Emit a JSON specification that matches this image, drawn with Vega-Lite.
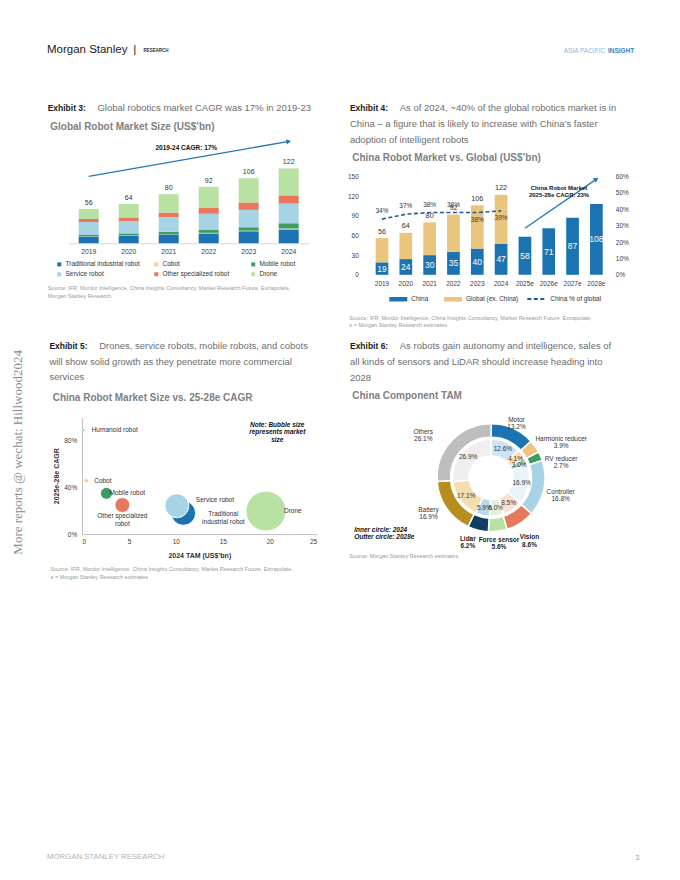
{
  "$schema": "https://vega.github.io/schema/vega-lite/v6.json",
  "background": "white",
  "padding": {"left": 11.7, "top": 43, "right": 4, "bottom": 4},
  "config": {
    "font": "Liberation Sans",
    "view": {"stroke": null},
    "axis": {"labelFont": "Liberation Sans", "titleFont": "Liberation Sans", "labelColor": "#404040", "titleColor": "#333333", "grid": false, "ticks": false, "labelOverlap": false},
    "axisY": {"labelOverlap": false},
    "axisQuantitative": {"labelOverlap": false},
    "legend": {"labelFont": "Liberation Sans", "padding": 0},
    "title": {"font": "Liberation Sans", "subtitleFont": "Liberation Sans"},
    "text": {"font": "Liberation Sans"}
  },
  "datasets": {
    "ex3": [
      {"year": "2019", "segment": "Traditional industrial robot", "rank": 1, "value": 11},
      {"year": "2019", "segment": "Cobot", "rank": 2, "value": 0.5},
      {"year": "2019", "segment": "Mobile robot", "rank": 3, "value": 2},
      {"year": "2019", "segment": "Service robot", "rank": 4, "value": 21},
      {"year": "2019", "segment": "Other specialized robot", "rank": 5, "value": 5},
      {"year": "2019", "segment": "Drone", "rank": 6, "value": 16.5},
      {"year": "2020", "segment": "Traditional industrial robot", "rank": 1, "value": 12.5},
      {"year": "2020", "segment": "Cobot", "rank": 2, "value": 0.5},
      {"year": "2020", "segment": "Mobile robot", "rank": 3, "value": 3},
      {"year": "2020", "segment": "Service robot", "rank": 4, "value": 20},
      {"year": "2020", "segment": "Other specialized robot", "rank": 5, "value": 6},
      {"year": "2020", "segment": "Drone", "rank": 6, "value": 22},
      {"year": "2021", "segment": "Traditional industrial robot", "rank": 1, "value": 14.5},
      {"year": "2021", "segment": "Cobot", "rank": 2, "value": 0.5},
      {"year": "2021", "segment": "Mobile robot", "rank": 3, "value": 3.5},
      {"year": "2021", "segment": "Service robot", "rank": 4, "value": 24},
      {"year": "2021", "segment": "Other specialized robot", "rank": 5, "value": 7.5},
      {"year": "2021", "segment": "Drone", "rank": 6, "value": 30},
      {"year": "2022", "segment": "Traditional industrial robot", "rank": 1, "value": 16},
      {"year": "2022", "segment": "Cobot", "rank": 2, "value": 1},
      {"year": "2022", "segment": "Mobile robot", "rank": 3, "value": 4.5},
      {"year": "2022", "segment": "Service robot", "rank": 4, "value": 26.5},
      {"year": "2022", "segment": "Other specialized robot", "rank": 5, "value": 9.5},
      {"year": "2022", "segment": "Drone", "rank": 6, "value": 34.5},
      {"year": "2023", "segment": "Traditional industrial robot", "rank": 1, "value": 19.5},
      {"year": "2023", "segment": "Cobot", "rank": 2, "value": 1},
      {"year": "2023", "segment": "Mobile robot", "rank": 3, "value": 5.5},
      {"year": "2023", "segment": "Service robot", "rank": 4, "value": 28.5},
      {"year": "2023", "segment": "Other specialized robot", "rank": 5, "value": 12},
      {"year": "2023", "segment": "Drone", "rank": 6, "value": 39.5},
      {"year": "2024", "segment": "Traditional industrial robot", "rank": 1, "value": 22.5},
      {"year": "2024", "segment": "Cobot", "rank": 2, "value": 1.5},
      {"year": "2024", "segment": "Mobile robot", "rank": 3, "value": 8.5},
      {"year": "2024", "segment": "Service robot", "rank": 4, "value": 32},
      {"year": "2024", "segment": "Other specialized robot", "rank": 5, "value": 13.5},
      {"year": "2024", "segment": "Drone", "rank": 6, "value": 44}
    ],
    "ex3tot": [
      {"year": "2019", "total": 56}, {"year": "2020", "total": 64}, {"year": "2021", "total": 80},
      {"year": "2022", "total": 92}, {"year": "2023", "total": 106}, {"year": "2024", "total": 122}
    ],
    "ex3arrow": [{"year": "2019", "v": 109}, {"year": "2024", "v": 166}],
    "ex3note": [{"year": "2021", "v": 155.7, "text": "2019-24 CAGR: 17%"}],
    "ex4": [
      {"year": "2019", "series": "China", "rank": 1, "value": 19}, {"year": "2019", "series": "Global (ex. China)", "rank": 2, "value": 37},
      {"year": "2020", "series": "China", "rank": 1, "value": 24}, {"year": "2020", "series": "Global (ex. China)", "rank": 2, "value": 40},
      {"year": "2021", "series": "China", "rank": 1, "value": 30}, {"year": "2021", "series": "Global (ex. China)", "rank": 2, "value": 50},
      {"year": "2022", "series": "China", "rank": 1, "value": 35}, {"year": "2022", "series": "Global (ex. China)", "rank": 2, "value": 57},
      {"year": "2023", "series": "China", "rank": 1, "value": 40}, {"year": "2023", "series": "Global (ex. China)", "rank": 2, "value": 66},
      {"year": "2024", "series": "China", "rank": 1, "value": 47}, {"year": "2024", "series": "Global (ex. China)", "rank": 2, "value": 75},
      {"year": "2025e", "series": "China", "rank": 1, "value": 58},
      {"year": "2026e", "series": "China", "rank": 1, "value": 71},
      {"year": "2027e", "series": "China", "rank": 1, "value": 87},
      {"year": "2028e", "series": "China", "rank": 1, "value": 108}
    ],
    "ex4tot": [
      {"year": "2019", "total": 56}, {"year": "2020", "total": 64}, {"year": "2021", "total": 80},
      {"year": "2022", "total": 92}, {"year": "2023", "total": 106}, {"year": "2024", "total": 122}
    ],
    "ex4pct": [
      {"year": "2019", "pct": 0.34}, {"year": "2020", "pct": 0.37}, {"year": "2021", "pct": 0.38},
      {"year": "2022", "pct": 0.38}, {"year": "2023", "pct": 0.38}, {"year": "2024", "pct": 0.39}
    ],
    "ex4arrow": [{"year": "2025e", "v": 71}, {"year": "2028e", "v": 146}],
    "ex4note": [{"year": "2026e", "v": 132.9, "text": "China Robot Market\n2025-28e CAGR: 23%"}],
    "ex5": [
      {"name": "Drone", "label": "Drone", "tam": 19.6, "cagr": 0.197, "market": 40},
      {"name": "Traditional industrial robot", "label": "Traditional\nindustrial robot", "tam": 10.8, "cagr": 0.18, "market": 15},
      {"name": "Service robot", "label": "Service robot", "tam": 10.1, "cagr": 0.243, "market": 14.5},
      {"name": "Other specialized robot", "label": "Other specialized\nrobot", "tam": 4.3, "cagr": 0.249, "market": 5.6},
      {"name": "Mobile robot", "label": "Mobile robot", "tam": 2.6, "cagr": 0.349, "market": 3.6},
      {"name": "Cobot", "label": "Cobot", "tam": 0.45, "cagr": 0.457, "market": 0.55},
      {"name": "Humanoid robot", "label": "Humanoid robot", "tam": 0.18, "cagr": 0.891, "market": 0.1}
    ],
    "ex5note": [{"tam": 20.8, "cagr": 0.937, "text": "Note: Bubble size\nrepresents market\nsize"}],
    "ex6": [
      {"component": "Motor", "year": "2028e", "rank": 1, "share": 0.132, "label": "Motor\n13.2%"},
      {"component": "Harmonic reducer", "year": "2028e", "rank": 2, "share": 0.039, "label": "Harmonic reducer\n3.9%"},
      {"component": "RV reducer", "year": "2028e", "rank": 3, "share": 0.027, "label": "RV reducer\n2.7%"},
      {"component": "Controller", "year": "2028e", "rank": 4, "share": 0.168, "label": "Controller\n16.8%"},
      {"component": "Vision", "year": "2028e", "rank": 5, "share": 0.086, "label": "Vision\n8.6%"},
      {"component": "Force sensor", "year": "2028e", "rank": 6, "share": 0.056, "label": "Force sensor\n5.6%"},
      {"component": "Lidar", "year": "2028e", "rank": 7, "share": 0.062, "label": "Lidar\n6.2%"},
      {"component": "Battery", "year": "2028e", "rank": 8, "share": 0.169, "label": "Battery\n16.9%"},
      {"component": "Others", "year": "2028e", "rank": 9, "share": 0.261, "label": "Others\n26.1%"},
      {"component": "Motor", "year": "2024", "rank": 1, "share": 0.126, "label": "Motor\n12.6%"},
      {"component": "Harmonic reducer", "year": "2024", "rank": 2, "share": 0.041, "label": "Harmonic reducer\n4.1%"},
      {"component": "RV reducer", "year": "2024", "rank": 3, "share": 0.030, "label": "RV reducer\n3.0%"},
      {"component": "Controller", "year": "2024", "rank": 4, "share": 0.169, "label": "Controller\n16.9%"},
      {"component": "Vision", "year": "2024", "rank": 5, "share": 0.085, "label": "Vision\n8.5%"},
      {"component": "Force sensor", "year": "2024", "rank": 6, "share": 0.060, "label": "Force sensor\n6.0%"},
      {"component": "Lidar", "year": "2024", "rank": 7, "share": 0.059, "label": "Lidar\n5.9%"},
      {"component": "Battery", "year": "2024", "rank": 8, "share": 0.171, "label": "Battery\n17.1%"},
      {"component": "Others", "year": "2024", "rank": 9, "share": 0.269, "label": "Others\n26.9%"}
    ]
  },
  "title": {"text": "More reports @ wechat: Hillwood2024", "orient": "left", "anchor": "middle", "font": "Liberation Serif", "fontSize": 13, "fontWeight": "normal", "color": "#8c8c8c", "offset": 22},
  "vconcat": [{
    "title": {"text": "3", "orient": "bottom", "anchor": "end", "fontSize": 7, "fontWeight": "normal", "color": "#999999", "offset": -7, "dx": 5},
    "vconcat": [{
      "title": {"text": "MORGAN STANLEY RESEARCH", "orient": "bottom", "anchor": "start", "fontSize": 7.8, "fontWeight": "normal", "color": "#b3b3b3", "offset": 272.8, "dx": 0},
      "vconcat": [{
        "title": {"text": "ASIA PACIFIC\u2003\u2003\u2003\u2003\u2002\u200B", "subtitle": "INSIGHT", "anchor": "end", "fontSize": 6.5, "fontWeight": "normal", "color": "#8db7dc", "subtitleFontSize": 6.5, "subtitleFontWeight": "bold", "subtitleColor": "#3b82c4", "subtitlePadding": -6.5, "offset": -11, "dx": 6},
        "vconcat": [{
          "title": {"text": "Morgan Stanley\u2002|", "subtitle": "\u200B\u2003\u2003\u2003\u2003\u2003\u2003\u2003\u2003\u2003\u2003\u2003\u2003\u2003\u2003\u2003\u2003\u2003\u2003\u2003\u2003\u2003\u2002RESEARCH", "anchor": "start", "fontSize": 11.5, "fontWeight": "normal", "color": "#1a1a1a", "subtitleFontSize": 4.5, "subtitleFontWeight": "bold", "subtitleColor": "#333333", "subtitlePadding": -7.5, "offset": 47.6, "dx": -0.7},
          "columns": 2,
          "align": "each",
          "spacing": {"row": 11.4, "column": 30},
          "resolve": {"scale": {"color": "independent", "size": "independent", "strokeDash": "independent", "theta": "independent"}},
          "concat": [
            {
              "title": {"text": "Exhibit 3:", "subtitle": "\u200B\u2003\u2003\u2003\u2003\u2003\u2005Global robotics market CAGR was 17% in 2019-23", "anchor": "start", "fontSize": 8.5, "fontWeight": "bold", "color": "#1a1a1a", "subtitleFontSize": 9.5, "subtitleColor": "#6e6e6e", "subtitleLineHeight": 15.7, "subtitlePadding": -9, "offset": 9.3},
              "vconcat": [{
                "title": {"text": ["Source: IFR, Mordor Intelligence, China Insights Consultancy, Market Research Future, Extrapolate,", "Morgan Stanley Research"], "orient": "bottom", "anchor": "start", "fontSize": 5.5, "fontWeight": "normal", "color": "#9a9a9a", "lineHeight": 8, "offset": 30.6, "dx": -2.6},
                "vconcat": [{
                  "width": 240,
                  "height": 104.2,
                  "title": {"text": "Global Robot Market Size (US$’bn)", "anchor": "start", "fontSize": 10, "fontWeight": "bold", "color": "#808080", "offset": 6.5, "dx": -18.4},
                  "layer": [
                    {
                      "data": {"name": "ex3"},
                      "mark": {"type": "bar"},
                      "encoding": {
                        "x": {"field": "year", "type": "ordinal", "title": null, "scale": {"paddingInner": 0.5, "paddingOuter": 0.25}, "axis": {"labelFontSize": 6.8, "labelPadding": 5, "labelAngle": 0, "domainColor": "#d9d9d9", "ticks": false}},
                        "y": {"field": "value", "type": "quantitative", "stack": "zero", "scale": {"domain": [0, 170], "nice": false}, "axis": null},
                        "color": {"field": "segment", "type": "nominal",
                          "scale": {"domain": ["Traditional industrial robot", "Cobot", "Mobile robot", "Service robot", "Other specialized robot", "Drone"], "range": ["#1b74b1", "#f2d48a", "#3b9d62", "#a6d4e4", "#e8785b", "#b9e1a3"]},
                          "legend": {"title": null, "orient": "none", "legendX": -12.7, "legendY": 122, "direction": "horizontal", "columns": 3, "symbolType": "square", "symbolSize": 16, "labelFontSize": 6.5, "labelColor": "#333333", "labelOffset": 3, "columnPadding": 12, "rowPadding": 3, "gridAlign": "all"}},
                        "order": {"field": "rank", "type": "quantitative"}
                      }
                    },
                    {
                      "data": {"name": "ex3tot"},
                      "mark": {"type": "text", "baseline": "bottom", "dy": -3, "fontSize": 7, "color": "#333333"},
                      "encoding": {
                        "x": {"field": "year", "type": "ordinal"},
                        "y": {"field": "total", "type": "quantitative", "scale": {"domain": [0, 170], "nice": false}},
                        "text": {"field": "total", "type": "quantitative"}
                      }
                    },
                    {
                      "data": {"name": "ex3arrow"},
                      "mark": {"type": "line", "color": "#2677b0", "strokeWidth": 1.3},
                      "encoding": {
                        "x": {"field": "year", "type": "ordinal"},
                        "y": {"field": "v", "type": "quantitative", "scale": {"domain": [0, 170], "nice": false}}
                      }
                    },
                    {
                      "data": {"name": "ex3arrow"},
                      "transform": [{"filter": "datum.year === '2024'"}],
                      "mark": {"type": "point", "shape": "triangle-right", "angle": -10, "size": 30, "filled": true, "color": "#2677b0", "opacity": 1},
                      "encoding": {
                        "x": {"field": "year", "type": "ordinal"},
                        "y": {"field": "v", "type": "quantitative", "scale": {"domain": [0, 170], "nice": false}}
                      }
                    },
                    {
                      "data": {"name": "ex3note"},
                      "mark": {"type": "text", "fontSize": 6.5, "fontWeight": "bold", "dx": 17.6, "color": "#111111"},
                      "encoding": {
                        "x": {"field": "year", "type": "ordinal"},
                        "y": {"field": "v", "type": "quantitative", "scale": {"domain": [0, 170], "nice": false}},
                        "text": {"field": "text", "type": "nominal"}
                      }
                    }
                  ]
                }]
              }]
            },
            {
              "title": {"text": "Exhibit 4:", "subtitle": ["\u200B\u2003\u2003\u2003\u2003\u2003\u2005As of 2024, ~40% of the global robotics market is in", "China – a figure that is likely to increase with China’s faster", "adoption of intelligent robots"], "anchor": "start", "fontSize": 8.5, "fontWeight": "bold", "color": "#1a1a1a", "subtitleFontSize": 9.5, "subtitleColor": "#6e6e6e", "subtitleLineHeight": 15.7, "subtitlePadding": -9, "offset": -5.6, "dx": 2.5},
              "vconcat": [{
                "title": {"text": ["Source: IFR, Mordor Intelligence, China Insights Consultancy, Market Research Future, Extrapolate,", "e = Morgan Stanley Research estimates"], "orient": "bottom", "anchor": "start", "fontSize": 5.5, "fontWeight": "normal", "color": "#9a9a9a", "lineHeight": 8, "offset": 29, "dx": 1.8},
                "vconcat": [{
                  "width": 239,
                  "height": 135.8,
                  "title": {"text": "China Robot Market vs. Global (US$’bn)", "anchor": "start", "fontSize": 10, "fontWeight": "bold", "color": "#808080", "offset": -24.2, "dx": 4.8},
                  "resolve": {"scale": {"y": "independent"}},
                  "layer": [
                    {
                      "data": {"name": "ex4"},
                      "mark": {"type": "bar"},
                      "encoding": {
                        "x": {"field": "year", "type": "ordinal", "title": null, "scale": {"paddingInner": 0.467, "paddingOuter": 0.25}, "axis": {"labelFontSize": 6.5, "labelPadding": 5.2, "labelAngle": 0, "domain": false, "ticks": false}},
                        "y": {"field": "value", "type": "quantitative", "stack": "zero", "scale": {"domain": [0, 207.2], "nice": false}, "axis": {"values": [0, 30, 60, 90, 120, 150], "title": null, "labelFontSize": 6.5, "labelPadding": 11.4, "domain": false, "ticks": false, "grid": false}},
                        "color": {"field": "series", "type": "nominal",
                          "scale": {"domain": ["China", "Global (ex. China)"], "range": ["#1b74b1", "#e9c57d"]},
                          "legend": {"title": null, "orient": "none", "legendX": 18.6, "legendY": 150, "direction": "horizontal", "symbolType": "M-1,-0.25H1V0.25H-1Z", "symbolSize": 324, "labelFontSize": 6.5, "labelColor": "#333333", "labelOffset": 3, "columnPadding": 14.7}},
                        "order": {"field": "rank", "type": "quantitative"}
                      }
                    },
                    {
                      "data": {"name": "ex4"},
                      "transform": [{"filter": "datum.series === 'China'"}],
                      "mark": {"type": "text", "color": "white", "fontSize": 8.5, "baseline": "middle"},
                      "encoding": {
                        "x": {"field": "year", "type": "ordinal"},
                        "y": {"field": "value", "type": "quantitative", "stack": "zero", "bandPosition": 0.5, "scale": {"domain": [0, 207.2], "nice": false}, "axis": null},
                        "text": {"field": "value", "type": "quantitative"}
                      }
                    },
                    {
                      "data": {"name": "ex4tot"},
                      "mark": {"type": "text", "baseline": "bottom", "dy": -2.5, "fontSize": 7.3, "color": "#333333"},
                      "encoding": {
                        "x": {"field": "year", "type": "ordinal"},
                        "y": {"field": "total", "type": "quantitative", "scale": {"domain": [0, 207.2], "nice": false}, "axis": null},
                        "text": {"field": "total", "type": "quantitative"}
                      }
                    },
                    {
                      "data": {"name": "ex4arrow"},
                      "mark": {"type": "line", "color": "#2677b0", "strokeWidth": 1.3},
                      "encoding": {
                        "x": {"field": "year", "type": "ordinal"},
                        "y": {"field": "v", "type": "quantitative", "scale": {"domain": [0, 207.2], "nice": false}, "axis": null}
                      }
                    },
                    {
                      "data": {"name": "ex4arrow"},
                      "transform": [{"filter": "datum.year === '2028e'"}],
                      "mark": {"type": "point", "shape": "triangle-right", "angle": -34.5, "size": 30, "filled": true, "color": "#2677b0", "opacity": 1},
                      "encoding": {
                        "x": {"field": "year", "type": "ordinal"},
                        "y": {"field": "v", "type": "quantitative", "scale": {"domain": [0, 207.2], "nice": false}, "axis": null}
                      }
                    },
                    {
                      "data": {"name": "ex4note"},
                      "mark": {"type": "text", "fontSize": 6, "fontWeight": "bold", "lineBreak": "\n", "lineHeight": 7.7, "dx": 10.3, "color": "#111111"},
                      "encoding": {
                        "x": {"field": "year", "type": "ordinal"},
                        "y": {"field": "v", "type": "quantitative", "scale": {"domain": [0, 207.2], "nice": false}, "axis": null},
                        "text": {"field": "text", "type": "nominal"}
                      }
                    },
                    {
                      "data": {"name": "ex4pct"},
                      "mark": {"type": "line", "color": "#1d5c96", "strokeWidth": 1.6},
                      "encoding": {
                        "x": {"field": "year", "type": "ordinal"},
                        "y": {"field": "pct", "type": "quantitative", "scale": {"domain": [0, 0.8289], "nice": false}, "axis": {"orient": "right", "values": [0, 0.1, 0.2, 0.3, 0.4, 0.5, 0.6], "format": ".0%", "title": null, "labelFontSize": 6.5, "labelPadding": 6.6, "domain": false, "ticks": false, "grid": false}},
                        "strokeDash": {"datum": "China % of global", "type": "nominal", "scale": {"domain": ["China % of global"], "range": [[4, 2.5]]},
                          "legend": {"title": null, "orient": "none", "legendX": 156.6, "legendY": 150, "symbolType": "stroke", "symbolSize": 324, "symbolStrokeColor": "#1d5c96", "symbolStrokeWidth": 1.8, "labelFontSize": 6.5, "labelColor": "#333333", "labelOffset": 4}}
                      }
                    },
                    {
                      "data": {"name": "ex4pct"},
                      "transform": [{"filter": "datum.year <= '2022'"}],
                      "mark": {"type": "text", "baseline": "bottom", "dy": -5, "fontSize": 6.5, "color": "#333333"},
                      "encoding": {
                        "x": {"field": "year", "type": "ordinal"},
                        "y": {"field": "pct", "type": "quantitative", "scale": {"domain": [0, 0.8289], "nice": false}, "axis": null},
                        "text": {"field": "pct", "type": "quantitative", "format": ".0%"}
                      }
                    },
                    {
                      "data": {"name": "ex4pct"},
                      "transform": [{"filter": "datum.year >= '2023'"}],
                      "mark": {"type": "text", "baseline": "top", "dy": 4, "fontSize": 6.5, "color": "#333333"},
                      "encoding": {
                        "x": {"field": "year", "type": "ordinal"},
                        "y": {"field": "pct", "type": "quantitative", "scale": {"domain": [0, 0.8289], "nice": false}, "axis": null},
                        "text": {"field": "pct", "type": "quantitative", "format": ".0%"}
                      }
                    }
                  ]
                }]
              }]
            },
            {
              "title": {"text": "Exhibit 5:", "subtitle": ["\u200B\u2003\u2003\u2003\u2003\u2003\u2005Drones, service robots, mobile robots, and cobots", "will show solid growth as they penetrate more commercial", "services"], "anchor": "start", "fontSize": 8.5, "fontWeight": "bold", "color": "#1a1a1a", "subtitleFontSize": 9.5, "subtitleColor": "#6e6e6e", "subtitleLineHeight": 15.7, "subtitlePadding": -9, "offset": 10.3, "dx": -1},
              "vconcat": [{
                "title": {"text": ["Source: IFR, Mordor Intelligence, China Insights Consultancy, Market Research Future, Extrapolate,", "e = Morgan Stanley Research estimates"], "orient": "bottom", "anchor": "start", "fontSize": 5.5, "fontWeight": "normal", "color": "#9a9a9a", "lineHeight": 8, "offset": 8.1, "dx": -2.3},
                "vconcat": [{
                  "width": 248,
                  "height": 116.7,
                  "title": {"text": "China Robot Market Size vs. 25-28e CAGR", "anchor": "start", "fontSize": 10, "fontWeight": "bold", "color": "#808080", "offset": 14.7, "dx": 0},
                  "layer": [
                    {
                      "data": {"name": "ex5"},
                      "mark": {"type": "circle", "opacity": 1, "stroke": "white", "strokeWidth": 1},
                      "encoding": {
                        "x": {"field": "tam", "type": "quantitative", "scale": {"domain": [0, 25], "range": [13.3, 248], "nice": false}, "axis": {"values": [0, 5, 10, 15, 20, 25], "title": "2024 TAM (US$’bn)", "titleFontSize": 7, "titleFontWeight": "bold", "titleColor": "#333333", "titlePadding": 6.6, "labelFontSize": 6.5, "labelPadding": 4.4, "labelOverlap": false, "domainColor": "#bfbfbf", "ticks": false, "grid": false}},
                        "y": {"field": "cagr", "type": "quantitative", "scale": {"domain": [0, 1], "nice": false}, "axis": {"values": [0, 0.2, 0.4, 0.6, 0.8, 1], "format": ".0%", "offset": -13.3, "title": "2025e-28e CAGR", "titleFontSize": 7, "titleFontWeight": "bold", "titleColor": "#333333", "titlePadding": 4, "labelFontSize": 6.5, "labelPadding": 5.3, "labelOverlap": false, "labelBound": false, "labelFlush": false, "domainColor": "#bfbfbf", "ticks": false, "grid": false}},
                        "size": {"field": "market", "type": "quantitative", "scale": {"domain": [0, 40], "range": [0, 1600]}, "legend": null},
                        "color": {"field": "name", "type": "nominal", "scale": {"domain": ["Drone", "Traditional industrial robot", "Service robot", "Other specialized robot", "Mobile robot", "Cobot", "Humanoid robot"], "range": ["#b9e1a3", "#1b74b1", "#a6d4e4", "#e8785b", "#3b9d62", "#f2d48a", "#0f3d63"]}, "legend": null}
                      }
                    },
                    {
                      "data": {"name": "ex5"},
                      "transform": [{"filter": "datum.name === 'Cobot' || datum.name === 'Humanoid robot'"}],
                      "mark": {"type": "text", "align": "left", "dx": 8, "fontSize": 6.5, "color": "#333333"},
                      "encoding": {"x": {"field": "tam", "type": "quantitative"}, "y": {"field": "cagr", "type": "quantitative"}, "text": {"field": "label", "type": "nominal"}}
                    },
                    {
                      "data": {"name": "ex5"},
                      "transform": [{"filter": "datum.name === 'Mobile robot'"}],
                      "mark": {"type": "text", "align": "left", "dx": 3, "fontSize": 6.5, "color": "#333333"},
                      "encoding": {"x": {"field": "tam", "type": "quantitative"}, "y": {"field": "cagr", "type": "quantitative"}, "text": {"field": "label", "type": "nominal"}}
                    },
                    {
                      "data": {"name": "ex5"},
                      "transform": [{"filter": "datum.name === 'Other specialized robot'"}],
                      "mark": {"type": "text", "align": "center", "baseline": "top", "dy": 8.4, "lineBreak": "\n", "lineHeight": 7.3, "fontSize": 6.5, "color": "#333333"},
                      "encoding": {"x": {"field": "tam", "type": "quantitative"}, "y": {"field": "cagr", "type": "quantitative"}, "text": {"field": "label", "type": "nominal"}}
                    },
                    {
                      "data": {"name": "ex5"},
                      "transform": [{"filter": "datum.name === 'Service robot'"}],
                      "mark": {"type": "text", "align": "left", "dx": 19, "dy": -6, "fontSize": 6.5, "color": "#333333"},
                      "encoding": {"x": {"field": "tam", "type": "quantitative"}, "y": {"field": "cagr", "type": "quantitative"}, "text": {"field": "label", "type": "nominal"}}
                    },
                    {
                      "data": {"name": "ex5"},
                      "transform": [{"filter": "datum.name === 'Traditional industrial robot'"}],
                      "mark": {"type": "text", "align": "center", "dx": 40, "dy": 1, "lineBreak": "\n", "lineHeight": 8, "fontSize": 6.5, "color": "#333333"},
                      "encoding": {"x": {"field": "tam", "type": "quantitative"}, "y": {"field": "cagr", "type": "quantitative"}, "text": {"field": "label", "type": "nominal"}}
                    },
                    {
                      "data": {"name": "ex5"},
                      "transform": [{"filter": "datum.name === 'Drone'"}],
                      "mark": {"type": "text", "align": "left", "dx": 18, "fontSize": 6.5, "color": "#333333"},
                      "encoding": {"x": {"field": "tam", "type": "quantitative"}, "y": {"field": "cagr", "type": "quantitative"}, "text": {"field": "label", "type": "nominal"}}
                    },
                    {
                      "data": {"name": "ex5note"},
                      "mark": {"type": "text", "align": "center", "fontSize": 6.5, "fontWeight": "bold", "fontStyle": "italic", "lineBreak": "\n", "lineHeight": 7.5, "color": "#111111"},
                      "encoding": {"x": {"field": "tam", "type": "quantitative"}, "y": {"field": "cagr", "type": "quantitative"}, "text": {"field": "text", "type": "nominal"}}
                    }
                  ]
                }]
              }]
            },
            {
              "title": {"text": "Exhibit 6:", "subtitle": ["\u200B\u2003\u2003\u2003\u2003\u2003\u2005As robots gain autonomy and intelligence, sales of", "all kinds of sensors and LiDAR should increase heading into", "2028"], "anchor": "start", "fontSize": 8.5, "fontWeight": "bold", "color": "#1a1a1a", "subtitleFontSize": 9.5, "subtitleColor": "#6e6e6e", "subtitleLineHeight": 15.7, "subtitlePadding": -9, "offset": 7.9, "dx": 0.7},
              "vconcat": [{
                "title": {"text": ["\u200B\u2002\u2005Inner circle: 2024", "\u200B\u2002\u2005Outter circle: 2028e"], "subtitle": "Source: Morgan Stanley Research estimates.", "orient": "bottom", "anchor": "start", "fontSize": 6.5, "fontWeight": "bold", "fontStyle": "italic", "color": "#111111", "lineHeight": 7.3, "offset": -35.9, "dx": -3, "subtitleFontSize": 5.5, "subtitleColor": "#9a9a9a", "subtitlePadding": 13.6},
                "vconcat": [{
                  "width": 242.8,
                  "height": 120.6,
                  "title": {"text": "China Component TAM", "anchor": "start", "fontSize": 10, "fontWeight": "bold", "color": "#808080", "offset": 1.2, "dx": -17.4},
                  "data": {"name": "ex6"},
                  "resolve": {"scale": {"theta": "independent", "color": "independent"}},
                  "layer": [
                    {
                      "transform": [{"filter": "datum.year === '2028e'"}],
                      "mark": {"type": "arc", "outerRadius": 54, "innerRadius": 40.5, "stroke": "white", "strokeWidth": 1.5},
                      "encoding": {
                        "theta": {"field": "share", "type": "quantitative", "stack": true},
                        "order": {"field": "rank", "type": "quantitative"},
                        "color": {"field": "component", "type": "nominal", "legend": null,
                          "scale": {"domain": ["Motor", "Harmonic reducer", "RV reducer", "Controller", "Vision", "Force sensor", "Lidar", "Battery", "Others"], "range": ["#1b74b1", "#f0c27d", "#3b9d62", "#a6d4e4", "#e8785b", "#b9e1a3", "#0f3d63", "#b68e1e", "#bebebe"]}}
                      }
                    },
                    {
                      "transform": [{"filter": "datum.year === '2024'"}],
                      "mark": {"type": "arc", "outerRadius": 38.5, "innerRadius": 22, "stroke": "white", "strokeWidth": 1.5},
                      "encoding": {
                        "theta": {"field": "share", "type": "quantitative", "stack": true},
                        "order": {"field": "rank", "type": "quantitative"},
                        "color": {"field": "component", "type": "nominal", "legend": null,
                          "scale": {"domain": ["Motor", "Harmonic reducer", "RV reducer", "Controller", "Vision", "Force sensor", "Lidar", "Battery", "Others"], "range": ["#cde4f5", "#f7dcb0", "#a9dab8", "#e9f4f8", "#fbe0d6", "#e2f2d8", "#b8d8f1", "#f3deb0", "#efefef"]}}
                      }
                    },
                    {
                      "transform": [{"filter": "datum.year === '2024'"}],
                      "mark": {"type": "text", "radius": 31, "fontSize": 6.5, "color": "#333333"},
                      "encoding": {
                        "theta": {"field": "share", "type": "quantitative", "stack": true},
                        "order": {"field": "rank", "type": "quantitative"},
                        "text": {"field": "share", "type": "quantitative", "format": ".1%"}
                      }
                    },
                    {
                      "transform": [{"filter": "datum.year === '2028e'"}],
                      "mark": {"type": "text", "radius": 63, "fontSize": 6.5, "lineBreak": "\n", "lineHeight": 7.3, "color": "#333333"},
                      "encoding": {"theta": {"field": "share", "type": "quantitative", "stack": true}, "order": {"field": "rank", "type": "quantitative"},
                        "text": {"condition": {"test": "datum.component === 'Motor'", "field": "label", "type": "nominal"}, "value": ""}}
                    },
                    {
                      "transform": [{"filter": "datum.year === '2028e'"}],
                      "mark": {"type": "text", "radius": 63, "fontSize": 6.5, "fontWeight": "bold", "lineBreak": "\n", "lineHeight": 7.3, "color": "#222222"},
                      "encoding": {"theta": {"field": "share", "type": "quantitative", "stack": true}, "order": {"field": "rank", "type": "quantitative"},
                        "text": {"condition": {"test": "datum.component === 'Force sensor'", "field": "label", "type": "nominal"}, "value": ""}}
                    },
                    {
                      "transform": [{"filter": "datum.year === '2028e'"}],
                      "mark": {"type": "text", "radius": 63, "dx": -8, "fontSize": 6.5, "fontWeight": "bold", "lineBreak": "\n", "lineHeight": 7.3, "color": "#222222"},
                      "encoding": {"theta": {"field": "share", "type": "quantitative", "stack": true}, "order": {"field": "rank", "type": "quantitative"},
                        "text": {"condition": {"test": "datum.component === 'Lidar'", "field": "label", "type": "nominal"}, "value": ""}}
                    },
                    {
                      "transform": [{"filter": "datum.year === '2028e'"}],
                      "mark": {"type": "text", "radius": 71, "fontSize": 6.5, "lineBreak": "\n", "lineHeight": 7.3, "color": "#333333"},
                      "encoding": {"theta": {"field": "share", "type": "quantitative", "stack": true}, "order": {"field": "rank", "type": "quantitative"},
                        "text": {"condition": {"test": "datum.component === 'Controller'", "field": "label", "type": "nominal"}, "value": ""}}
                    },
                    {
                      "transform": [{"filter": "datum.year === '2028e'"}],
                      "mark": {"type": "text", "radius": 71, "fontSize": 6.5, "fontWeight": "bold", "lineBreak": "\n", "lineHeight": 7.3, "color": "#222222"},
                      "encoding": {"theta": {"field": "share", "type": "quantitative", "stack": true}, "order": {"field": "rank", "type": "quantitative"},
                        "text": {"condition": {"test": "datum.component === 'Vision'", "field": "label", "type": "nominal"}, "value": ""}}
                    },
                    {
                      "transform": [{"filter": "datum.year === '2028e'"}],
                      "mark": {"type": "text", "radius": 71, "dx": -4, "dy": -8, "fontSize": 6.5, "lineBreak": "\n", "lineHeight": 7.3, "color": "#333333"},
                      "encoding": {"theta": {"field": "share", "type": "quantitative", "stack": true}, "order": {"field": "rank", "type": "quantitative"},
                        "text": {"condition": {"test": "datum.component === 'Battery'", "field": "label", "type": "nominal"}, "value": ""}}
                    },
                    {
                      "transform": [{"filter": "datum.year === '2028e'"}],
                      "mark": {"type": "text", "radius": 75, "dx": 9, "dy": 5, "fontSize": 6.5, "lineBreak": "\n", "lineHeight": 7.3, "color": "#333333"},
                      "encoding": {"theta": {"field": "share", "type": "quantitative", "stack": true}, "order": {"field": "rank", "type": "quantitative"},
                        "text": {"condition": {"test": "datum.component === 'Harmonic reducer'", "field": "label", "type": "nominal"}, "value": ""}}
                    },
                    {
                      "transform": [{"filter": "datum.year === '2028e'"}],
                      "mark": {"type": "text", "radius": 72, "dx": 4, "dy": 10, "fontSize": 6.5, "lineBreak": "\n", "lineHeight": 7.3, "color": "#333333"},
                      "encoding": {"theta": {"field": "share", "type": "quantitative", "stack": true}, "order": {"field": "rank", "type": "quantitative"},
                        "text": {"condition": {"test": "datum.component === 'RV reducer'", "field": "label", "type": "nominal"}, "value": ""}}
                    },
                    {
                      "transform": [{"filter": "datum.year === '2028e'"}],
                      "mark": {"type": "text", "radius": 75, "dx": -13, "dy": 5, "fontSize": 6.5, "lineBreak": "\n", "lineHeight": 7.3, "color": "#333333"},
                      "encoding": {"theta": {"field": "share", "type": "quantitative", "stack": true}, "order": {"field": "rank", "type": "quantitative"},
                        "text": {"condition": {"test": "datum.component === 'Others'", "field": "label", "type": "nominal"}, "value": ""}}
                    }
                  ]
                }]
              }]
            }
          ]
        }]
      }]
    }]
  }]
}
